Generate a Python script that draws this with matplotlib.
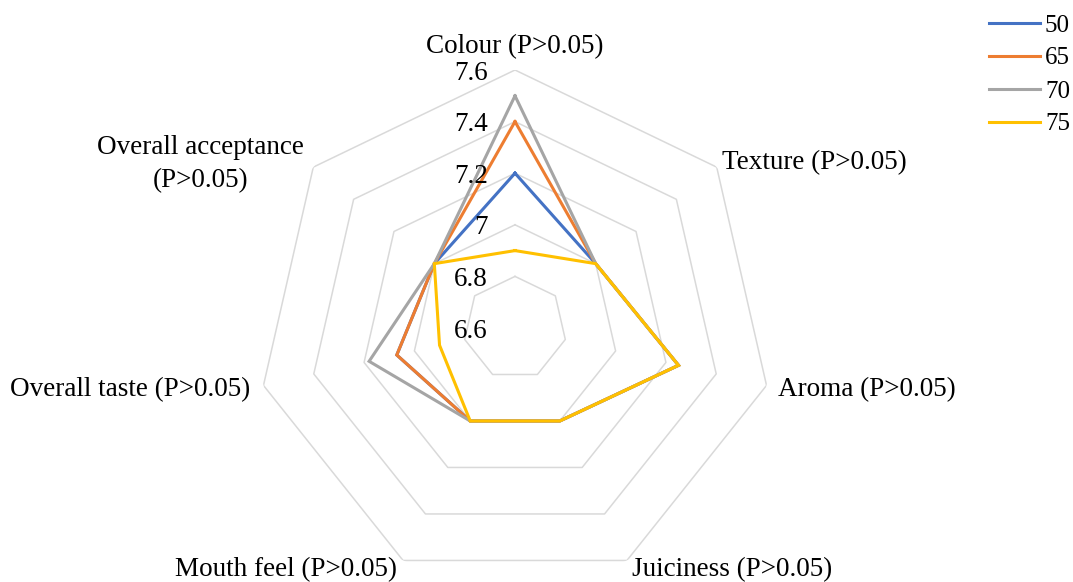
import numpy as np
import matplotlib.pyplot as plt

plt.rcParams['font.family'] = ['Liberation Serif', 'DejaVu Serif']

# 数据
categories = ['Colour (P>0.05)', 'Texture (P>0.05)', 'Aroma (P>0.05)',
              'Juiciness (P>0.05)', 'Mouth feel (P>0.05)',
              'Overall taste (P>0.05)', 'Overall acceptance\n(P>0.05)']
series_names = ['50', '65', '70', '75']
s50 = [7.2, 7.0, 7.25, 7.0, 7.0, 7.07, 7.0]
s65 = [7.4, 7.0, 7.25, 7.0, 7.0, 7.07, 7.0]
s70 = [7.5, 7.0, 7.25, 7.0, 7.0, 7.18, 7.0]
s75 = [6.9, 7.0, 7.25, 7.0, 7.0, 6.9, 7.0]
r_ticks = [6.6, 6.8, 7.0, 7.2, 7.4, 7.6]
r_tick_labels = ['6.6', '6.8', '7', '7.2', '7.4', '7.6']

colors = ['#4472C4', '#ED7D31', '#A5A5A5', '#FFC000']

W, H = 1073, 582
fig = plt.figure(figsize=(W / 100, H / 100), dpi=100)
cx, cy, R = 515, 328, 258
ax = fig.add_axes([(cx - R) / W, (H - cy - R) / H, 2 * R / W, 2 * R / H],
                  projection='polar')
ax.set_theta_zero_location('N')
ax.set_theta_direction(-1)
ax.set_ylim(r_ticks[0], r_ticks[-1])
ax.grid(False)
ax.spines['polar'].set_visible(False)
ax.set_xticks([])
ax.set_yticks([])
ax.patch.set_alpha(0)

n = len(categories)
angles = np.linspace(0, 2 * np.pi, n, endpoint=False)
closed = np.append(angles, angles[0])

# 七边形网格
for v in r_ticks[1:]:
    ax.plot(closed, [v] * (n + 1), color='#D9D9D9', lw=1.1, zorder=1)

for vals, name, c in zip([s50, s65, s70, s75], series_names, colors):
    ax.plot(closed, vals + vals[:1], color=c, lw=2.2, label=name, zorder=3,
            solid_joinstyle='miter')

# 刻度标签
for v, lab in zip(r_ticks, r_tick_labels):
    ax.annotate(lab, xy=(0, v), xytext=(-27, -3), textcoords='offset pixels',
                ha='right', va='center', fontsize=19.5, zorder=4)

# 类别标签
offsets = [(0, 23, 'center'), (5, 5, 'left'), (11, -4, 'left'),
           (5, -9, 'left'), (-6, -9, 'right'), (-13, -4, 'right'),
           (-113, 3, 'center')]
for a, lab, (dx, dy, ha) in zip(angles, categories, offsets):
    ax.annotate(lab, xy=(a, r_ticks[-1]), xytext=(dx, dy),
                textcoords='offset pixels', ha=ha, va='center',
                fontsize=19.5, multialignment='center', linespacing=1.4,
                annotation_clip=False)

fig.legend(loc='upper right', bbox_to_anchor=(1 + 7 / W, 1 - 4 / H),
           frameon=False, fontsize=18, handlelength=2.05, handletextpad=0.2,
           labelspacing=0.42, borderaxespad=0)

fig.savefig('out.png', dpi=100)
